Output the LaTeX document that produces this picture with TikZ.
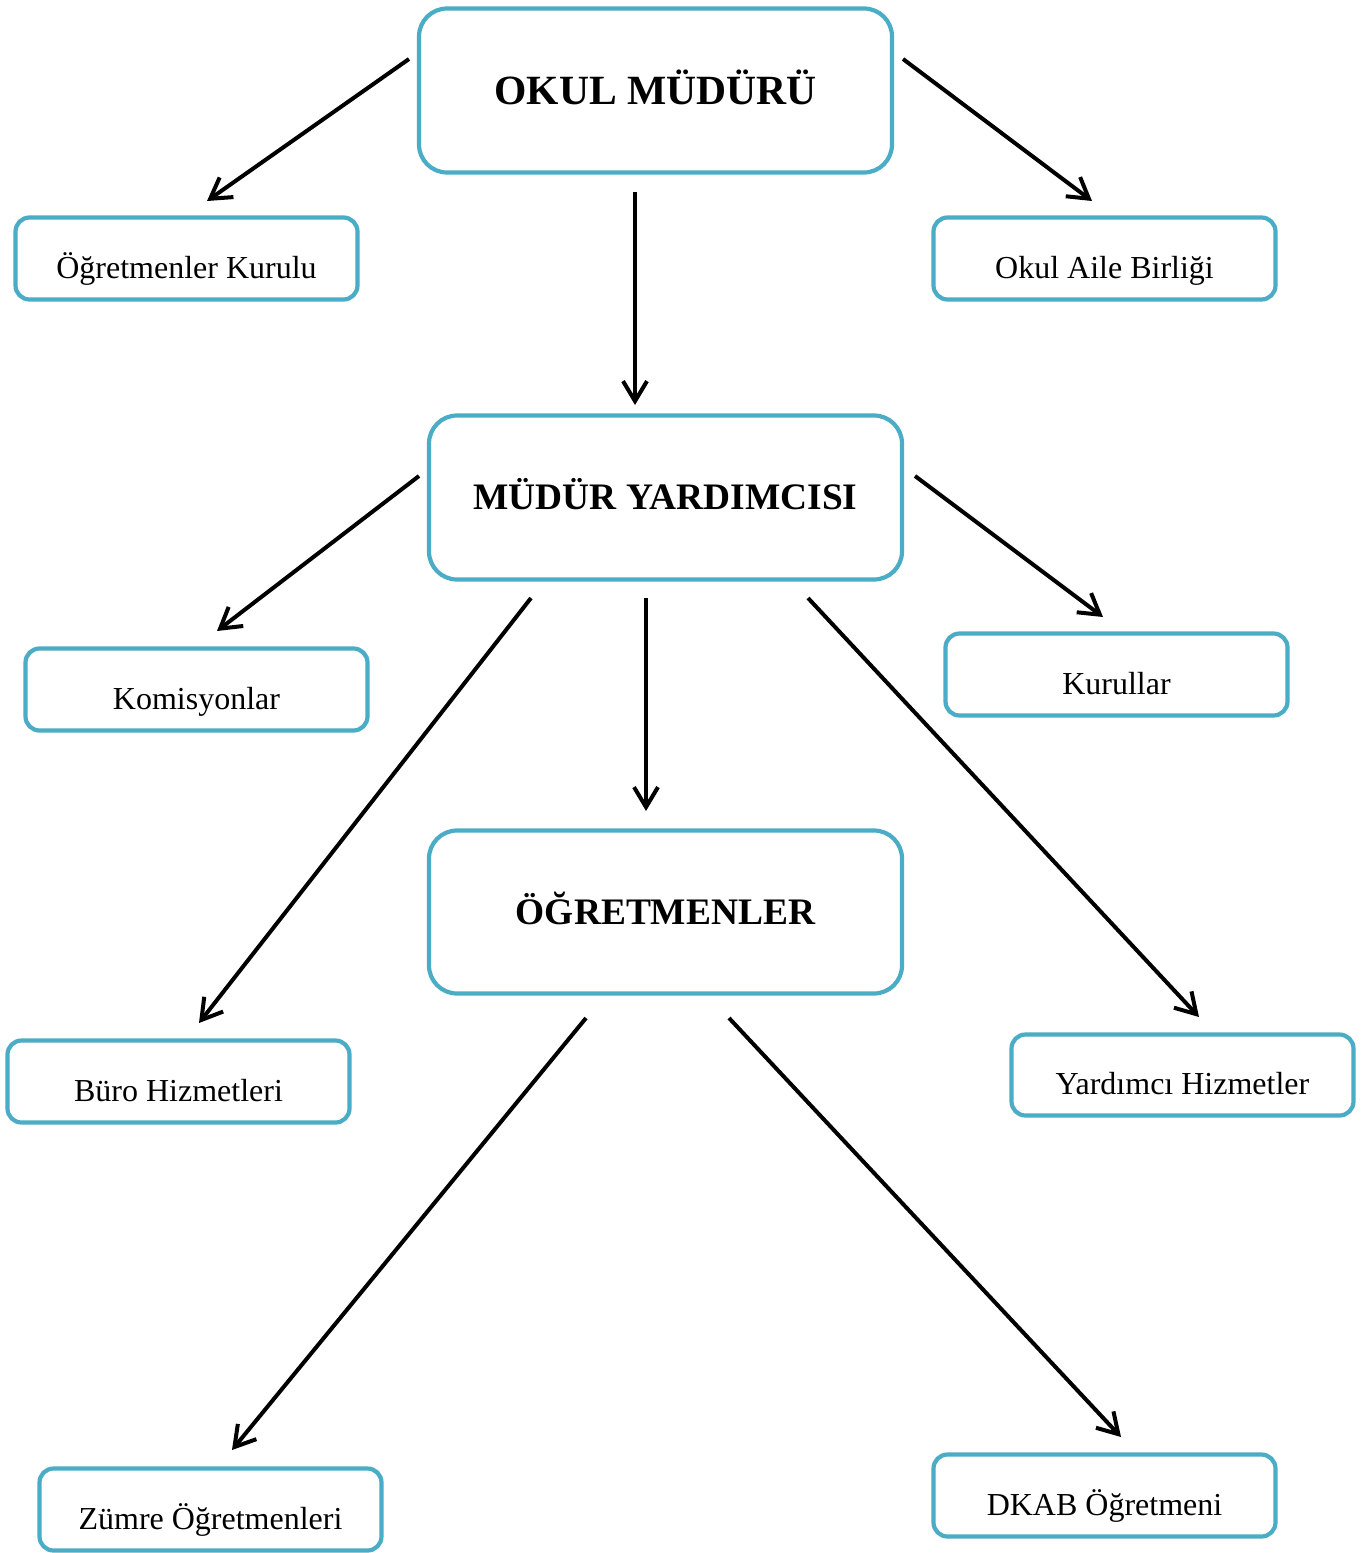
\documentclass[tikz,border=0pt]{standalone}
\usepackage{fontspec}
\setmainfont{Liberation Serif}
\usetikzlibrary{arrows.meta}
\definecolor{boxblue}{HTML}{4BACC6}
\tikzset{
  bigbox/.style={draw=boxblue, line width=2.1pt, rounded corners=14pt, fill=white,
    minimum width=236.5pt, minimum height=82pt, inner sep=0pt,
    font=\fontsize{20.8}{24}\selectfont\bfseries},
  smallbox/.style={draw=boxblue, line width=2.1pt, rounded corners=7pt, fill=white,
    minimum width=171pt, minimum height=41pt, inner sep=0pt,
    text height=19.5pt, text depth=0pt,
    font=\fontsize{16}{19}\selectfont},
  conn/.style={draw=black, line width=2pt, -{Straight Barb[length=10pt,width=12pt,line width=2pt]}}
}
\begin{document}
\begin{tikzpicture}[x=0.5pt,y=-0.5pt]
\useasboundingbox (0,0) rectangle (1368,1553);
% boxes
\node[bigbox, text height=13.8pt, text depth=0pt] (om) at (655.5,90.5) {OKUL MÜDÜRÜ};
\node[bigbox, font=\fontsize{18.7}{22}\selectfont\bfseries, text height=12.4pt, text depth=0pt] (my) at (665.5,497.5) {MÜDÜR YARDIMCISI};
\node[bigbox, font=\fontsize{18.7}{22}\selectfont\bfseries, text height=12.4pt, text depth=0pt, minimum height=81.5pt] (ogr) at (665.5,912) {ÖĞRETMENLER};
\node[smallbox] (ok) at (186.5,258.5) {Öğretmenler Kurulu};
\node[smallbox] (oab) at (1104.5,258.5) {Okul Aile Birliği};
\node[smallbox] (kom) at (196.5,689.5) {Komisyonlar};
\node[smallbox] (kur) at (1116.5,674.5) {Kurullar};
\node[smallbox] (buro) at (178.5,1081.5) {Büro Hizmetleri};
\node[smallbox, minimum height=40.5pt] (yh) at (1182.5,1075) {Yardımcı Hizmetler};
\node[smallbox] (zum) at (210.5,1509.5) {Zümre Öğretmenleri};
\node[smallbox] (dkab) at (1104.5,1495.5) {DKAB Öğretmeni};
% connector end points
\coordinate (a1s) at (409,59);   \coordinate (a1e) at (207,201);
\coordinate (a2s) at (903,59);   \coordinate (a2e) at (1092,201);
\coordinate (a3s) at (635,192);  \coordinate (a3e) at (635,405);
\coordinate (a4s) at (419,476);  \coordinate (a4e) at (217,631);
\coordinate (a5s) at (915,476);  \coordinate (a5e) at (1103,617);
\coordinate (a6s) at (531,598);  \coordinate (a6e) at (199,1023);
\coordinate (a7s) at (646,598);  \coordinate (a7e) at (646,811);
\coordinate (a8s) at (808,598);  \coordinate (a8e) at (1199,1017);
\coordinate (a9s) at (586,1018); \coordinate (a9e) at (232,1450);
\coordinate (a10s) at (729,1018);\coordinate (a10e) at (1121,1437);
% connectors
\draw[conn] (a1s) -- (a1e);
\draw[conn] (a2s) -- (a2e);
\draw[conn] (a3s) -- (a3e);
\draw[conn] (a4s) -- (a4e);
\draw[conn] (a5s) -- (a5e);
\draw[conn] (a6s) -- (a6e);
\draw[conn] (a7s) -- (a7e);
\draw[conn] (a8s) -- (a8e);
\draw[conn] (a9s) -- (a9e);
\draw[conn] (a10s) -- (a10e);
\end{tikzpicture}
\end{document}
